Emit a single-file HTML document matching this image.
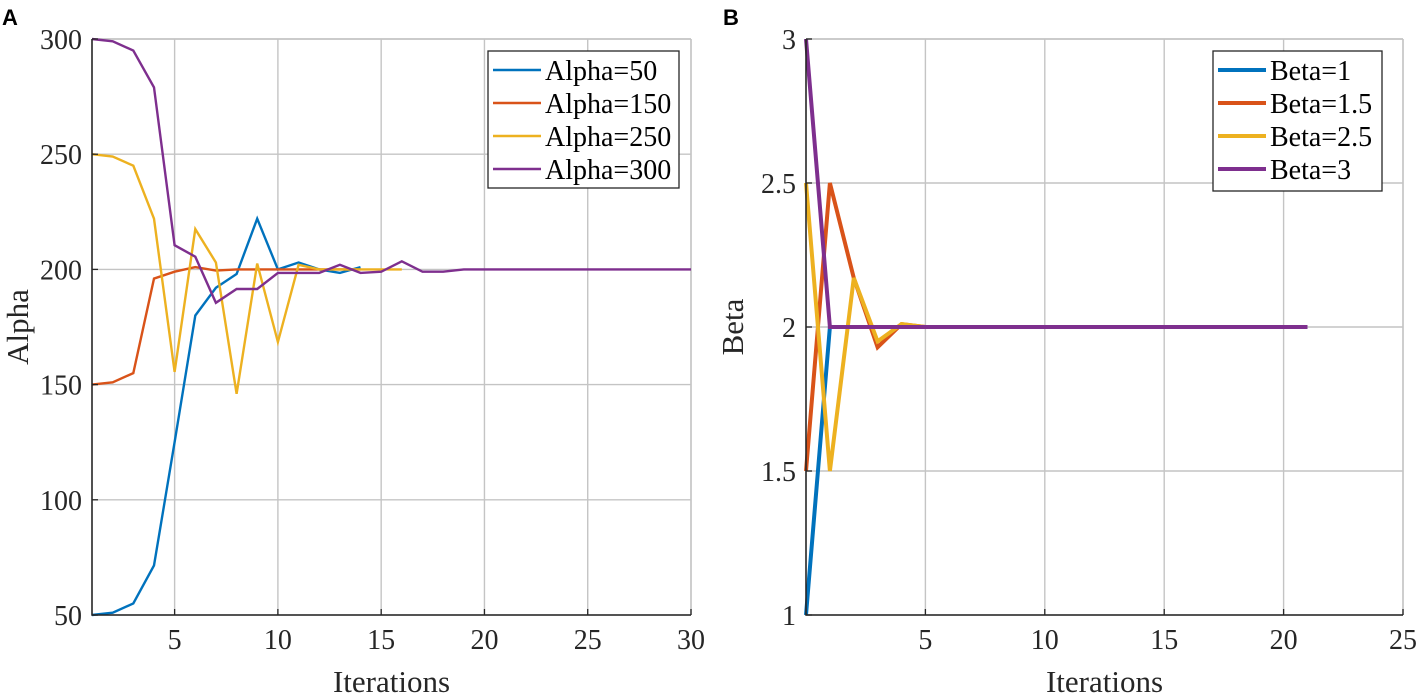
<!DOCTYPE html>
<html><head><meta charset="utf-8"><style>
body{margin:0;background:#fff;}
svg{display:block;font-family:"Liberation Serif",serif;}
</style></head><body>
<svg id="c" width="1417" height="693" viewBox="0 0 1417 693"></svg>
<script>
const alphaIters50=[1,2,3,4,5,6,7,8,9,10,11,12,13,14];
const alpha50=[50,51,55,71.5,125,180,192,198,222,200,203,200,198.5,201];
const alphaIters150=[1,2,3,4,5,6,7,8,9,10,11,12,13,14];
const alpha150=[150,151,155,196,199,201,199.5,200,200,200,200,200,200,200];
const alphaIters250=[1,2,3,4,5,6,7,8,9,10,11,12,13,14,15,16];
const alpha250=[250,249,245,222,155.5,217.5,203,146,202.5,168.5,202,200,200,200,200,200];
const alphaIters300=[1,2,3,4,5,6,7,8,9,10,11,12,13,14,15,16,17,18,19,20,21,22,23,24,25,26,27,28,29,30];
const alpha300=[300,299,295,279,210.5,205.5,185.5,191.5,191.5,198.5,198.5,198.5,202,198.5,199,203.5,199,199,200,200,200,200,200,200,200,200,200,200,200,200];
const betaIters=[0,1,2,3,4,5,6,7,8,9,10,11,12,13,14,15,16,17,18,19,20,21];
const beta1=[1,2,2,2,2,2,2,2,2,2,2,2,2,2,2,2,2,2,2,2,2,2];
const beta15=[1.5,2.5,2.17,1.93,2.01,2,2,2,2,2,2,2,2,2,2,2,2,2,2,2,2,2];
const beta25=[2.5,1.5,2.17,1.95,2.01,2,2,2,2,2,2,2,2,2,2,2,2,2,2,2,2,2];
const beta3=[3,2,2,2,2,2,2,2,2,2,2,2,2,2,2,2,2,2,2,2,2,2];
const xTicksA=[5,10,15,20,25,30], yTicksA=[50,100,150,200,250,300];
const xTicksB=[5,10,15,20,25], yTicksB=[1,1.5,2,2.5,3];
const yLabelsB=['1','1.5','2','2.5','3'];
const colors=['#0072BD','#D95319','#EDB120','#7E2F8E'];

const svg=document.getElementById('c');
const NS='http://www.w3.org/2000/svg';
function mk(t,a,p){const e=document.createElementNS(NS,t);for(const k in a)e.setAttribute(k,a[k]);(p||svg).appendChild(e);return e;}

function panel(o){
  const g=mk('g',{});
  
  
  const sx=v=>o.x0+(v-o.xmin)/(o.xmax-o.xmin)*(o.x1-o.x0);
  const sy=v=>o.y1-(v-o.ymin)/(o.ymax-o.ymin)*(o.y1-o.y0);
  const gc='#c4c4c4';
  o.xt.forEach(v=>{const l=mk('line',{x1:sx(v),x2:sx(v),y1:o.y0,y2:o.y1,stroke:gc,'stroke-width':1.4},g);
    });
  o.yt.forEach(v=>{const l=mk('line',{x1:o.x0,x2:o.x1,y1:sy(v),y2:sy(v),stroke:gc,'stroke-width':1.4},g);
    });
  mk('line',{x1:o.x0,x2:o.x1,y1:o.y0,y2:o.y0,stroke:gc,'stroke-width':1.4},g);
  mk('line',{x1:o.x1,x2:o.x1,y1:o.y0,y2:o.y1,stroke:gc,'stroke-width':1.4},g);
  o.series.forEach((s,i)=>{
    const pts=s.x.map((xv,j)=>sx(xv).toFixed(1)+','+sy(s.y[j]).toFixed(1)).join(' ');
    const p=mk('polyline',{points:pts,fill:'none',stroke:colors[i],'stroke-width':o.lw,'stroke-linejoin':'miter'},g);
    
    
  });
  const ax=mk('path',{d:`M${o.x0},${o.y0}V${o.y1}H${o.x1}`,fill:'none',stroke:'#262626','stroke-width':1.6},g);
  
  o.xt.forEach(v=>{mk('line',{x1:sx(v),x2:sx(v),y1:o.y1,y2:o.y1-6,stroke:'#262626','stroke-width':1.3},g);
    const t=mk('text',{x:sx(v),y:o.y1+34,'text-anchor':'middle','font-size':28,fill:'#262626'},g);t.textContent=v;
    });
  o.yt.forEach((v,i)=>{mk('line',{x1:o.x0,x2:o.x0+6,y1:sy(v),y2:sy(v),stroke:'#262626','stroke-width':1.3},g);
    const t=mk('text',{x:o.x0-10,y:sy(v)+10,'text-anchor':'end','font-size':28,fill:'#262626'},g);t.textContent=o.yl[i];
    });
  const xt=mk('text',{x:(o.x0+o.x1)/2,y:692,'text-anchor':'middle','font-size':31,fill:'#262626'},g);xt.textContent='Iterations';
  
  const yc=(o.y0+o.y1)/2;
  const yt=mk('text',{x:o.ytx,y:yc,'text-anchor':'middle','font-size':31,fill:'#262626',transform:`rotate(-90 ${o.ytx} ${yc})`},g);yt.textContent=o.ytitle;
  
  const L=o.leg;
  const lg=mk('g',{},g);
  mk('rect',{x:L.x,y:L.y,width:L.w,height:L.h,fill:'#fff',stroke:'#262626','stroke-width':1.3},lg);
  o.series.forEach((s,i)=>{
    const cy=L.y+19+i*33;
    const e=mk('g',{},lg);
    mk('line',{x1:L.x+5,x2:L.x+53,y1:cy,y2:cy,stroke:colors[i],'stroke-width':o.lw},e);
    const t=mk('text',{x:L.x+57,y:cy+10,'font-size':28,fill:'#000'},e);t.textContent=s.label;
  });
  const pl=mk('text',{x:o.px,y:25,'font-family':'Liberation Sans, sans-serif','font-weight':'bold','font-size':22,fill:'#000'},g);
  pl.textContent=o.plabel;
}

panel({name:'chart-alpha',plabel:'A',px:2,x0:92,x1:691,y0:39,y1:615,xmin:1,xmax:30,ymin:50,ymax:300,
  xt:xTicksA,yt:yTicksA,yl:yTicksA.map(String),ytitle:'Alpha',ytx:28,lw:2.4,
  leg:{x:488,y:51,w:191,h:137},
  series:[{x:alphaIters50,y:alpha50,label:'Alpha=50'},{x:alphaIters150,y:alpha150,label:'Alpha=150'},
          {x:alphaIters250,y:alpha250,label:'Alpha=250'},{x:alphaIters300,y:alpha300,label:'Alpha=300'}]});
panel({name:'chart-beta',plabel:'B',px:723,x0:806,x1:1403,y0:39,y1:615,xmin:0,xmax:25,ymin:1,ymax:3,
  xt:xTicksB,yt:yTicksB,yl:yLabelsB,ytitle:'Beta',ytx:743,lw:4,
  leg:{x:1213,y:51,w:169,h:140},
  series:[{x:betaIters,y:beta1,label:'Beta=1'},{x:betaIters,y:beta15,label:'Beta=1.5'},
          {x:betaIters,y:beta25,label:'Beta=2.5'},{x:betaIters,y:beta3,label:'Beta=3'}]});
</script>
</body></html>
